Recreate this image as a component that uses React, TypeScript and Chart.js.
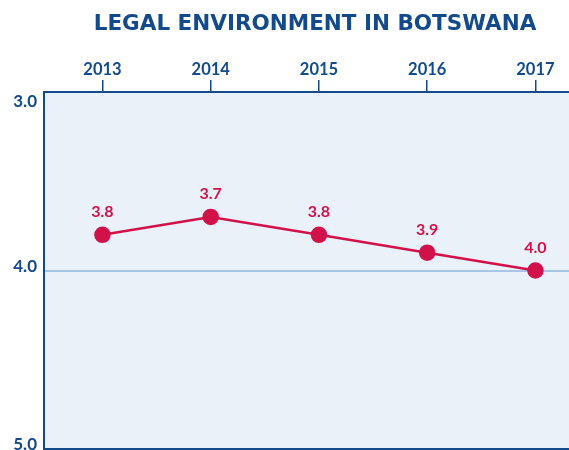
import React, { useEffect, useRef } from "react";
import { Chart, registerables } from "chart.js";

Chart.register(...registerables);

const TITLE = "LEGAL ENVIRONMENT IN BOTSWANA";
const YEARS = [2013, 2014, 2015, 2016, 2017];
const SCORES = [3.8, 3.7, 3.8, 3.9, 4.0];
const Y_TICKS = [3.0, 4.0, 5.0];

const BLUE = "#124a8c";
const RED = "#d2114a";
const BG = "#eaf1f9";
const GRID = "#a9c5e6";

export default function App() {
  const ref = useRef<HTMLCanvasElement | null>(null);

  useEffect(() => {
    if (!ref.current) return;

    const decor = {
      id: "decor",
      beforeDraw(chart: any) {
        const { ctx, chartArea } = chart;
        ctx.save();
        ctx.fillStyle = BG;
        ctx.fillRect(chartArea.left, chartArea.top, chartArea.right - chartArea.left, chartArea.bottom - chartArea.top);
        ctx.restore();
      },
      afterDraw(chart: any) {
        const { ctx, chartArea } = chart;
        ctx.save();
        ctx.strokeStyle = BLUE;
        ctx.lineWidth = 2;
        ctx.beginPath();
        ctx.moveTo(chartArea.left - 1, chartArea.bottom);
        ctx.lineTo(chartArea.right, chartArea.bottom);
        ctx.stroke();
        ctx.fillStyle = BLUE;
        ctx.font = "bold 21.5px 'DejaVu Sans'";
        ctx.textAlign = "center";
        ctx.textBaseline = "middle";
        ctx.fillText(TITLE, 315, 24);
        const ys = chart.scales.y;
        ctx.font = "bold 17px Lato";
        ctx.textAlign = "right";
        ctx.textBaseline = "middle";
        Y_TICKS.forEach((v) => {
          const py = Math.max(ys.getPixelForValue(v) - 4, chartArea.top + 9.5);
          ctx.fillText(v.toFixed(1), chartArea.left - 7, py);
        });
        ctx.restore();
      },
      afterDatasetsDraw(chart: any) {
        const { ctx } = chart;
        const meta = chart.getDatasetMeta(0);
        ctx.save();
        ctx.fillStyle = RED;
        ctx.font = "bold 16px Lato";
        ctx.textAlign = "center";
        ctx.textBaseline = "middle";
        meta.data.forEach((pt: any, i: number) => {
          ctx.fillText(SCORES[i].toFixed(1), pt.x, pt.y - 23);
        });
        ctx.restore();
      },
    };

    const chart = new Chart(ref.current, {
      type: "line",
      data: {
        datasets: [
          {
            data: YEARS.map((y, i) => ({ x: y, y: SCORES[i] })),
            borderColor: RED,
            backgroundColor: RED,
            pointBackgroundColor: RED,
            pointBorderColor: RED,
            borderWidth: 2.5,
            pointRadius: 7,
            pointHoverRadius: 7,
            tension: 0,
            clip: false as any,
          },
        ],
      },
      options: {
        animation: false,
        responsive: false,
        maintainAspectRatio: false,
        layout: { autoPadding: false, padding: { top: 50, left: 0, right: 0, bottom: 1 } },
        plugins: {
          legend: { display: false },
          tooltip: { enabled: false },
          title: { display: false },
        },
        scales: {
          x: {
            type: "linear",
            position: "top",
            min: 2012.46,
            max: 2017.31,
            afterFit: (s: any) => {
              s.height = 42;
              s.paddingLeft = 0;
              s.paddingRight = 0;
            },
            afterBuildTicks: (s: any) => {
              s.ticks = YEARS.map((v) => ({ value: v }));
            },
            ticks: {
              color: BLUE,
              font: { family: "Lato", weight: "bold", size: 16.5 },
              padding: 0,
              maxRotation: 0,
              autoSkip: false,
              callback: (v: any) => String(v),
            },
            grid: {
              drawOnChartArea: false,
              drawTicks: true,
              tickLength: 12,
              color: BLUE,
              lineWidth: 1.5,
            },
            border: { display: true, color: BLUE, width: 2 },
          },
          y: {
            type: "linear",
            reverse: true,
            min: 3,
            max: 5,
            afterFit: (s: any) => {
              s.width = 44;
            },
            afterBuildTicks: (s: any) => {
              s.ticks = Y_TICKS.map((v) => ({ value: v }));
            },
            ticks: { display: false },
            grid: {
              drawTicks: false,
              lineWidth: 2,
              color: (c: any) => (c.tick && c.tick.value === 4 ? GRID : "rgba(0,0,0,0)"),
            },
            border: { display: true, color: BLUE, width: 2 },
          },
        },
      },
      plugins: [decor],
    });

    return () => chart.destroy();
  }, []);

  return (
    <div style={{ position: "absolute", left: 0, top: 0, width: 569, height: 450, background: "#fff" }}>
      <canvas ref={ref} width={569} height={450} style={{ display: "block" }} />
    </div>
  );
}
